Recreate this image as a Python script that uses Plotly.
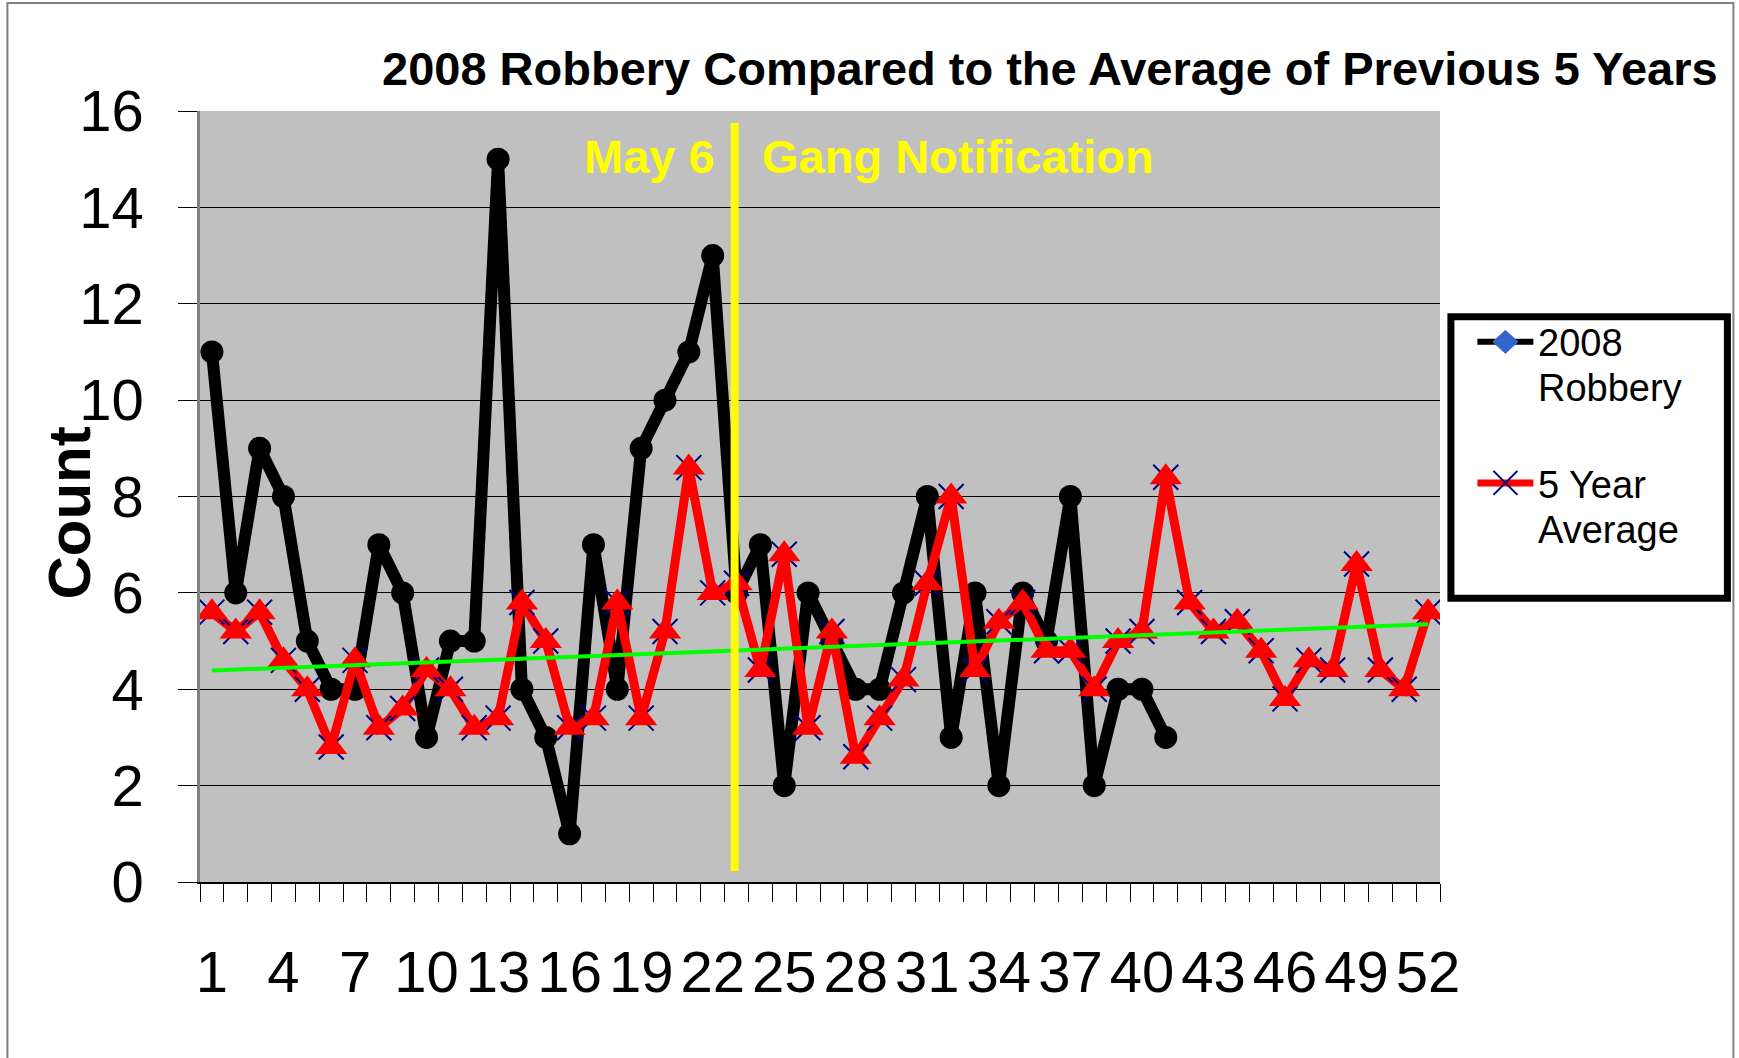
import numpy as np
import plotly.graph_objects as go

# ---------------- data ----------------
weeks = list(range(1, 53))
robbery_2008 = [11, 6, 9, 8, 5, 4, 4, 7, 6, 3,
                5, 5, 15, 4, 3, 1, 7, 4, 9, 10,
                11, 13, 6, 7, 2, 6, 5, 4, 4, 6,
                8, 3, 6, 2, 6, 5, 8, 2, 4, 4, 3]
avg_5yr = [5.6, 5.2, 5.6, 4.6, 4.0, 2.8, 4.6, 3.2, 3.6, 4.4,
           4.0, 3.2, 3.4, 5.8, 5.0, 3.2, 3.4, 5.8, 3.4, 5.2,
           8.6, 6.0, 6.2, 4.4, 6.8, 3.2, 5.2, 2.6, 3.4, 4.2,
           6.2, 8.0, 4.4, 5.4, 5.8, 4.8, 4.8, 4.0, 5.0, 5.2,
           8.4, 5.8, 5.2, 5.4, 4.8, 3.8, 4.6, 4.4, 6.6, 4.4,
           4.0, 5.6]
tick_weeks = list(range(1, 53, 3))
tick_labels = [str(w) for w in tick_weeks]
y_ticks = list(range(0, 17, 2))
notification_week = 22.92

title_text = "2008 Robbery Compared to the Average of Previous 5 Years"

# trend line of the 5-year average (linear fit)
coef = np.polyfit(weeks, avg_5yr, 1)
trend = np.polyval(coef, weeks)

FONT = "Arial, Liberation Sans, sans-serif"

# plot-area geometry in page pixels (body margin removed below)
OFF = 0
L, R, T, B = 199.6, 1439.6, 110.9, 881.7
def px(X):
    return (X - L) / (R - L)
def py(Y):
    return (B - Y) / (B - T)

fig = go.Figure()

fig.add_trace(go.Scatter(
    x=weeks[:len(robbery_2008)], y=robbery_2008, mode="lines+markers",
    line=dict(color="black", width=12),
    marker=dict(symbol="circle", size=23, color="black"),
    showlegend=False, hoverinfo="x+y"))

fig.add_trace(go.Scatter(
    x=weeks, y=avg_5yr, mode="lines",
    line=dict(color="#FF0000", width=9),
    showlegend=False))
fig.add_trace(go.Scatter(
    x=weeks, y=avg_5yr, mode="markers",
    marker=dict(symbol="x-thin", size=25, line=dict(color="#000080", width=2)),
    showlegend=False))
fig.add_trace(go.Scatter(
    x=weeks, y=avg_5yr, mode="markers",
    marker=dict(symbol="triangle-up", size=28, color="#FF0000"),
    showlegend=False))

fig.add_trace(go.Scatter(
    x=weeks, y=trend, mode="lines",
    line=dict(color="#00FF00", width=4),
    showlegend=False, hoverinfo="skip"))

shapes = []
# notification line
shapes.append(dict(type="line", xref="x", yref="y",
                   x0=notification_week, x1=notification_week, y0=0.23, y1=15.75,
                   line=dict(color="#FFFF00", width=8), layer="above"))
# chart border
shapes.append(dict(type="rect", xref="paper", yref="paper",
                   x0=px(7), x1=px(1733), y0=py(1075), y1=py(3),
                   line=dict(color="#808080", width=2), fillcolor="rgba(0,0,0,0)",
                   layer="below"))
# legend box
shapes.append(dict(type="rect", xref="paper", yref="paper",
                   x0=px(1450.5), x1=px(1727), y0=py(598), y1=py(316.5),
                   line=dict(color="black", width=7), fillcolor="white"))
# legend entry 1: black line + blue diamond
shapes.append(dict(type="line", xref="paper", yref="paper",
                   x0=px(1477), x1=px(1533), y0=py(341.7), y1=py(341.7),
                   line=dict(color="black", width=6)))
cx, cy = 1505, 341.7
shapes.append(dict(type="path", xref="paper", yref="paper",
                   path=(f"M {px(cx-12.5)} {py(cy)} L {px(cx)} {py(cy-11.5)} "
                         f"L {px(cx+12.5)} {py(cy)} L {px(cx)} {py(cy+11.5)} Z"),
                   fillcolor="#3366CC", line=dict(color="#3366CC", width=1)))
# legend entry 2: red line + navy x
shapes.append(dict(type="line", xref="paper", yref="paper",
                   x0=px(1477), x1=px(1533), y0=py(482.7), y1=py(482.7),
                   line=dict(color="#FF0000", width=7)))
cx, cy = 1505, 482.7
for dx in (-12, 12):
    shapes.append(dict(type="line", xref="paper", yref="paper",
                       x0=px(cx - dx), x1=px(cx + dx), y0=py(cy - 12), y1=py(cy + 12),
                       line=dict(color="#000080", width=2)))

annotations = [
    dict(text="<b>" + title_text + "</b>", xref="paper", yref="paper",
         x=px(1720), y=py(68), xanchor="right", yanchor="middle", showarrow=False,
         font=dict(family=FONT, size=47, color="black")),
    dict(text="<b>Count</b>", xref="paper", yref="paper",
         x=px(69), y=py(513), xanchor="center", yanchor="middle", showarrow=False,
         textangle=-90, font=dict(family=FONT, size=60, color="black")),
    dict(text="<b>May 6</b>", xref="x", yref="y", x=22.19, y=15.06,
         xanchor="right", yanchor="middle", showarrow=False,
         font=dict(family=FONT, size=47, color="#FFFF00")),
    dict(text="<b>Gang Notification</b>", xref="x", yref="y", x=24.0, y=15.06,
         xanchor="left", yanchor="middle", showarrow=False,
         font=dict(family=FONT, size=47, color="#FFFF00")),
]
legend_lines = [("2008", 343), ("Robbery", 388), ("5 Year", 485), ("Average", 530)]
for txt, yy in legend_lines:
    annotations.append(dict(text=txt, xref="paper", yref="paper",
                            x=px(1536), y=py(yy), xanchor="left", yanchor="middle",
                            showarrow=False,
                            font=dict(family=FONT, size=38, color="black")))

ml = round(L - OFF)
mt = round(T - OFF)
plot_w = round(R - L)
plot_h = round(B - T)
fig.update_layout(
    width=1739, height=1058,
    margin=dict(l=ml, r=1739 - ml - plot_w, t=mt, b=1058 - mt - plot_h),
    paper_bgcolor="white", plot_bgcolor="#C0C0C0",
    font=dict(family=FONT, color="black"),
    showlegend=False,
    shapes=shapes, annotations=annotations,
    xaxis=dict(range=[0.5, 52.5], tickmode="array", tickvals=tick_weeks,
               ticktext=tick_labels, ticks="", showgrid=False, zeroline=False,
               showline=True, linecolor="black", linewidth=1.5,
               tickfont=dict(family=FONT, size=58, color="black"),
               ticklabelstandoff=39,
               minor=dict(tickmode="array", tickvals=[w + 0.5 for w in [0] + weeks],
                          ticks="outside", ticklen=18, tickcolor="black", tickwidth=1,
                          showgrid=False)),
    yaxis=dict(range=[0, 16], tickmode="array", tickvals=y_ticks,
               ticks="outside", ticklen=19, tickcolor="black", tickwidth=1,
               showgrid=True, gridcolor="black", gridwidth=1, zeroline=False,
               showline=True, linecolor="#808080", linewidth=2.5,
               tickfont=dict(family=FONT, size=58, color="black"),
               ticklabelstandoff=23),
)

fig.write_html("out.html",
               config={"displayModeBar": False},
               post_script="document.body.style.margin='0';document.body.style.overflow='hidden';")
